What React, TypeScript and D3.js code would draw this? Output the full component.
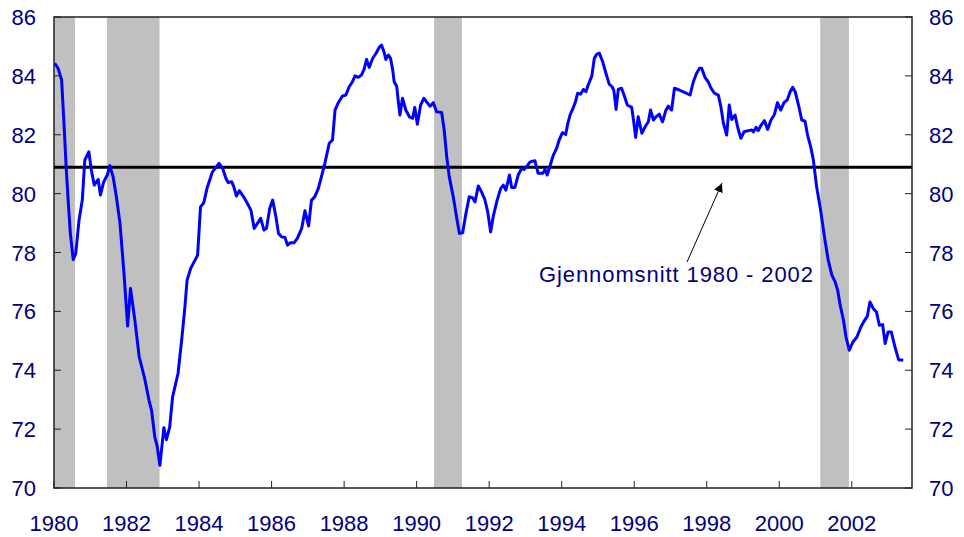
import React, { useEffect, useRef } from 'react';
import * as d3 from 'd3';

// time in decimal years
const dates = [
  1980.02, 1980.11, 1980.21, 1980.27, 1980.34, 1980.39, 1980.45, 1980.53, 1980.60, 1980.69, 1980.78, 1980.85, 1980.96,
  1981.03, 1981.11, 1981.22, 1981.28, 1981.37, 1981.47, 1981.54, 1981.63, 1981.72, 1981.82, 1981.93,
  1982.03, 1982.11, 1982.23, 1982.35, 1982.50, 1982.62, 1982.69, 1982.78, 1982.84, 1982.92,
  1983.03, 1983.10, 1983.19, 1983.27, 1983.42, 1983.52, 1983.61, 1983.67, 1983.77, 1983.96,
  1984.04, 1984.13, 1984.22, 1984.37, 1984.55, 1984.65, 1984.74, 1984.80, 1984.90, 1984.96,
  1985.03, 1985.11, 1985.24, 1985.33, 1985.43, 1985.52, 1985.61, 1985.70, 1985.79, 1985.86, 1985.95,
  1986.03, 1986.12, 1986.19, 1986.28, 1986.37, 1986.44, 1986.52, 1986.62, 1986.71, 1986.83, 1986.92,
  1987.02, 1987.10, 1987.19, 1987.29, 1987.38, 1987.47, 1987.59, 1987.68, 1987.75, 1987.84, 1987.95,
  1988.05, 1988.14, 1988.23, 1988.30, 1988.39, 1988.48, 1988.55, 1988.62, 1988.69, 1988.79, 1988.88, 1988.97,
  1989.03, 1989.10, 1989.15, 1989.22, 1989.28, 1989.34, 1989.38, 1989.45, 1989.49, 1989.54, 1989.61, 1989.70, 1989.80, 1989.89, 1989.95,
  1990.02, 1990.11, 1990.20, 1990.29, 1990.37, 1990.46, 1990.55, 1990.69, 1990.76, 1990.83, 1990.90,
  1991.01, 1991.10, 1991.18, 1991.27, 1991.36, 1991.45, 1991.54, 1991.61, 1991.70, 1991.79, 1991.88, 1991.96,
  1992.04, 1992.11, 1992.22, 1992.32, 1992.39, 1992.46, 1992.56, 1992.62, 1992.71, 1992.80, 1992.90, 1992.96,
  1993.05, 1993.13, 1993.26, 1993.35, 1993.48, 1993.54, 1993.60, 1993.70, 1993.77, 1993.86, 1993.93,
  1994.02, 1994.11, 1994.17, 1994.23, 1994.30, 1994.38, 1994.44, 1994.52, 1994.60, 1994.67, 1994.73, 1994.83, 1994.90, 1994.97,
  1995.04, 1995.13, 1995.22, 1995.31, 1995.39, 1995.44, 1995.50, 1995.56, 1995.65, 1995.73, 1995.81, 1995.93, 1995.98,
  1996.04, 1996.11, 1996.21, 1996.30, 1996.39, 1996.45, 1996.53, 1996.60, 1996.69, 1996.78, 1996.87, 1996.94,
  1997.03, 1997.11, 1997.24, 1997.40, 1997.54, 1997.63, 1997.72, 1997.80, 1997.86, 1997.95,
  1998.04, 1998.12, 1998.21, 1998.32, 1998.39, 1998.46, 1998.55, 1998.62, 1998.69, 1998.78, 1998.86, 1998.94,
  1999.03, 1999.15, 1999.24, 1999.29, 1999.36, 1999.42, 1999.50, 1999.59, 1999.68, 1999.77, 1999.86, 1999.95,
  2000.04, 2000.13, 2000.22, 2000.30, 2000.37, 2000.44, 2000.53, 2000.62, 2000.71, 2000.78, 2000.87, 2000.94,
  2001.03, 2001.14, 2001.26, 2001.35, 2001.45, 2001.54, 2001.61, 2001.68, 2001.77, 2001.84, 2001.93,
  2002.03, 2002.14, 2002.25, 2002.34, 2002.43, 2002.50, 2002.59, 2002.68, 2002.76, 2002.85, 2002.92,
  2003.00, 2003.09, 2003.19, 2003.29, 2003.42,
];

const values = [
  84.43, 84.26, 83.86, 82.50, 80.80, 79.78, 78.66, 77.76, 77.97, 79.10, 79.78, 81.14, 81.42,
  80.80, 80.29, 80.48, 79.95, 80.40, 80.63, 80.95, 80.57, 79.89, 78.99, 77.29,
  75.50, 76.78, 75.70, 74.45, 73.72, 72.98, 72.64, 71.73, 71.45, 70.77,
  72.05, 71.64, 72.07, 73.09, 73.89, 75.02, 76.15, 77.06, 77.46, 77.91,
  79.55, 79.69, 80.18, 80.74, 81.03, 80.86, 80.52, 80.38, 80.40, 80.23,
  79.92, 80.10, 79.87, 79.67, 79.44, 78.82, 78.99, 79.16, 78.76, 78.82, 79.50,
  79.78, 79.21, 78.65, 78.53, 78.51, 78.25, 78.33, 78.33, 78.48, 78.82, 79.42,
  78.90, 79.78, 79.89, 80.18, 80.60, 81.03, 81.71, 81.82, 82.84, 83.09, 83.31,
  83.35, 83.63, 83.80, 84.00, 83.95, 84.03, 84.22, 84.56, 84.29, 84.60, 84.77, 84.97,
  85.05, 84.82, 84.56, 84.71, 84.60, 84.20, 83.80, 83.65, 83.18, 82.67, 83.24, 82.84, 82.61, 82.56, 82.93,
  82.36, 83.01, 83.24, 83.09, 82.97, 83.09, 82.78, 82.76, 82.16, 81.25, 80.57,
  79.89, 79.21, 78.65, 78.67, 79.33, 79.89, 79.86, 79.72, 80.26, 80.06, 79.80, 79.38,
  78.70, 79.21, 79.78, 80.18, 80.29, 80.12, 80.63, 80.21, 80.21, 80.63, 80.86, 80.82,
  80.94, 81.08, 81.12, 80.69, 80.69, 80.82, 80.63, 81.03, 81.31, 81.54, 81.82,
  82.07, 82.01, 82.39, 82.67, 82.86, 83.12, 83.41, 83.38, 83.54, 83.46, 83.69, 83.99, 84.60, 84.74,
  84.77, 84.48, 84.09, 83.72, 83.63, 83.50, 82.86, 83.54, 83.58, 83.31, 83.01, 82.93, 82.50,
  81.91, 82.61, 82.05, 82.27, 82.44, 82.84, 82.50, 82.61, 82.70, 82.44, 82.82, 82.97,
  82.84, 83.58, 83.52, 83.43, 83.35, 83.80, 84.09, 84.26, 84.26, 83.95,
  83.80, 83.58, 83.41, 83.35, 82.95, 82.39, 81.99, 83.01, 82.52, 82.67, 82.22, 81.88,
  82.10, 82.14, 82.16, 82.10, 82.25, 82.14, 82.33, 82.48, 82.18, 82.50, 82.67, 83.09,
  82.84, 83.09, 83.18, 83.46, 83.61, 83.46, 83.01, 82.50, 82.46, 81.99, 81.57, 81.14,
  80.23, 79.44, 78.42, 77.74, 77.23, 77.00, 76.72, 76.21, 75.70, 75.13, 74.68,
  74.96, 75.13, 75.47, 75.67, 75.84, 76.32, 76.10, 75.98, 75.53, 75.55, 74.91,
  75.30, 75.30, 74.79, 74.36, 74.34,
];

// recession periods (shaded)
const recessionStart = [1980.0, 1981.46, 1990.48, 2001.13];
const recessionEnd = [1980.58, 1982.91, 1991.25, 2001.92];

const average = 80.9;
const averageLabel = 'Gjennomsnitt 1980 - 2002';

const xTicks = [1980, 1982, 1984, 1986, 1988, 1990, 1992, 1994, 1996, 1998, 2000, 2002];
const yTicks = [70, 72, 74, 76, 78, 80, 82, 84, 86];

const App = () => {
  const svgRef = useRef(null);

  useEffect(() => {
    const width = 964;
    const height = 537;
    const left = 54, right = 912, top = 17, bottom = 488;
    const font = '"Liberation Sans", Arial, sans-serif';
    const labelColor = '#000080';

    const svg = d3.select(svgRef.current)
      .attr('width', width)
      .attr('height', height);
    svg.selectAll('*').remove();

    const x = d3.scaleLinear().domain([1980, 2003.66]).range([left, right]);
    const y = d3.scaleLinear().domain([70, 86]).range([bottom, top]);

    svg.append('defs').append('marker')
      .attr('id', 'arrowhead')
      .attr('viewBox', '0 0 10 10')
      .attr('refX', 10)
      .attr('refY', 5)
      .attr('markerWidth', 9)
      .attr('markerHeight', 9)
      .attr('markerUnits', 'userSpaceOnUse')
      .attr('orient', 'auto')
      .append('path')
      .attr('d', 'M0,0 L10,5 L0,10 z')
      .attr('fill', '#000');

    // recession bands
    svg.selectAll('.band')
      .data(recessionStart)
      .enter()
      .append('rect')
      .attr('class', 'band')
      .attr('x', (d) => x(d))
      .attr('y', top)
      .attr('width', (d, i) => x(recessionEnd[i]) - x(d))
      .attr('height', bottom - top)
      .attr('fill', '#c0c0c0');

    // frame
    svg.append('rect')
      .attr('x', left)
      .attr('y', top)
      .attr('width', right - left)
      .attr('height', bottom - top)
      .attr('fill', 'none')
      .attr('stroke', '#222')
      .attr('stroke-width', 1.5);

    // ticks
    svg.selectAll('.xtick')
      .data(xTicks)
      .enter()
      .append('line')
      .attr('x1', (d) => x(d))
      .attr('x2', (d) => x(d))
      .attr('y1', bottom)
      .attr('y2', bottom - 7)
      .attr('stroke', '#222')
      .attr('stroke-width', 1);

    svg.selectAll('.ytickl')
      .data(yTicks)
      .enter()
      .append('line')
      .attr('x1', left)
      .attr('x2', left + 7)
      .attr('y1', (d) => y(d))
      .attr('y2', (d) => y(d))
      .attr('stroke', '#222')
      .attr('stroke-width', 1);

    svg.selectAll('.ytickr')
      .data(yTicks)
      .enter()
      .append('line')
      .attr('x1', right)
      .attr('x2', right - 7)
      .attr('y1', (d) => y(d))
      .attr('y2', (d) => y(d))
      .attr('stroke', '#222')
      .attr('stroke-width', 1);

    // tick labels
    svg.selectAll('.xlabel')
      .data(xTicks)
      .enter()
      .append('text')
      .attr('x', (d) => x(d))
      .attr('y', 531)
      .attr('text-anchor', 'middle')
      .style('font-family', font)
      .style('font-size', '22px')
      .attr('fill', labelColor)
      .text((d) => d);

    svg.selectAll('.ylabell')
      .data(yTicks)
      .enter()
      .append('text')
      .attr('x', 36)
      .attr('y', (d) => y(d) + 8)
      .attr('text-anchor', 'end')
      .style('font-family', font)
      .style('font-size', '22px')
      .attr('fill', labelColor)
      .text((d) => d);

    svg.selectAll('.ylabelr')
      .data(yTicks)
      .enter()
      .append('text')
      .attr('x', 929)
      .attr('y', (d) => y(d) + 8)
      .attr('text-anchor', 'start')
      .style('font-family', font)
      .style('font-size', '22px')
      .attr('fill', labelColor)
      .text((d) => d);

    // average line
    svg.append('line')
      .attr('x1', left)
      .attr('x2', right)
      .attr('y1', y(average))
      .attr('y2', y(average))
      .attr('stroke', '#000')
      .attr('stroke-width', 3);

    // series
    const line = d3.line()
      .x((d) => x(d[0]))
      .y((d) => y(d[1]));

    svg.append('path')
      .datum(dates.map((d, i) => [d, values[i]]))
      .attr('d', line)
      .attr('fill', 'none')
      .attr('stroke', '#0000ff')
      .attr('stroke-width', 3)
      .attr('stroke-linejoin', 'round');

    // annotation
    svg.append('text')
      .attr('x', 539)
      .attr('y', 282)
      .attr('textLength', 274)
      .attr('lengthAdjust', 'spacing')
      .style('font-family', font)
      .style('font-size', '22px')
      .attr('fill', labelColor)
      .text(averageLabel);

    svg.append('line')
      .attr('x1', 687)
      .attr('y1', 262)
      .attr('x2', 722)
      .attr('y2', y(average) + 16)
      .attr('stroke', '#000')
      .attr('stroke-width', 1)
      .attr('marker-end', 'url(#arrowhead)');
  }, []);

  return (
    <div style={{ position: 'absolute', left: 0, top: 0 }}>
      <svg ref={svgRef} style={{ display: 'block' }}></svg>
    </div>
  );
};

export default App;
